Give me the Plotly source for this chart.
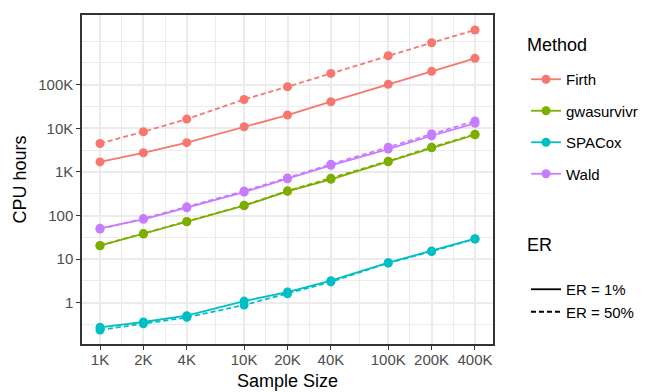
import plotly.graph_objects as go

sample_sizes = [1000, 2000, 4000, 10000, 20000, 40000, 100000, 200000, 400000]
x_tick_labels = ["1K", "2K", "4K", "10K", "20K", "40K", "100K", "200K", "400K"]
y_tick_vals = [1, 10, 100, 1000, 10000, 100000]
y_tick_labels = ["1", "10", "100", "1K", "10K", "100K"]

methods = ["Firth", "gwasurvivr", "SPACox", "Wald"]
colors = ["#F8766D", "#7CAE00", "#00BFC4", "#C77CFF"]

firth_er1 = [1700, 2750, 4700, 10900, 20200, 40800, 102000, 203000, 403000]
firth_er50 = [4500, 8350, 16300, 46000, 90000, 182000, 463000, 920000, 1800000]
gwas_er1 = [20.3, 37.6, 72, 168, 359, 676, 1710, 3590, 7130]
gwas_er50 = [20.5, 38.5, 73, 171, 368, 715, 1770, 3680, 7300]
spacox_er1 = [0.273, 0.361, 0.503, 1.09, 1.76, 3.2, 8.27, 15.3, 29.4]
spacox_er50 = [0.237, 0.33, 0.46, 0.886, 1.6, 3.0, 8.1, 15.0, 29.0]
wald_er1 = [50.9, 81.8, 151, 346, 698, 1417, 3350, 6763, 13030]
wald_er50 = [49, 85, 158, 365, 730, 1500, 3700, 7500, 14700]

er1 = [firth_er1, gwas_er1, spacox_er1, wald_er1]
er50 = [firth_er50, gwas_er50, spacox_er50, wald_er50]

FONT = "Liberation Sans, Arial, sans-serif"
DASH = "5px,3px"
fig = go.Figure()

for m, c, s, d in zip(methods, colors, er1, er50):
    fig.add_trace(go.Scatter(x=sample_sizes, y=d, mode="lines+markers",
                             line=dict(color=c, width=1.8, dash=DASH),
                             marker=dict(color=c, size=9), showlegend=False))
    fig.add_trace(go.Scatter(x=sample_sizes, y=s, mode="lines+markers",
                             line=dict(color=c, width=1.8),
                             marker=dict(color=c, size=9), showlegend=False))

# legend entries
for m, c in zip(methods, colors):
    fig.add_trace(go.Scatter(x=[None], y=[None], mode="lines+markers", name=m,
                             line=dict(color=c, width=1.8), marker=dict(color=c, size=9),
                             legend="legend", legendgroup=m))
fig.add_trace(go.Scatter(x=[None], y=[None], mode="lines", name="ER = 1%",
                         line=dict(color="black", width=1.8), legend="legend2"))
fig.add_trace(go.Scatter(x=[None], y=[None], mode="lines", name="ER = 50%",
                         line=dict(color="black", width=1.8, dash=DASH), legend="legend2"))

minor_x = [10 ** ((a + b) / 2) for a, b in zip(
    [3, 3.30103, 3.60206, 4, 4.30103, 4.60206, 5, 5.30103],
    [3.30103, 3.60206, 4, 4.30103, 4.60206, 5, 5.30103, 5.60206])]
minor_y = [10 ** (k + 0.5) for k in range(-1, 6)] + [1e6]

axis_common = dict(
    showline=True, mirror=True, linecolor="#333333", linewidth=1.5,
    ticks="outside", ticklen=4, tickcolor="#333333", tickwidth=1.2,
    tickfont=dict(family=FONT, size=15, color="#4D4D4D"),
    showgrid=True, gridcolor="#EBEBEB", gridwidth=1.6, zeroline=False,
    automargin=False,
)

fig.update_xaxes(type="log", range=[2.875, 5.727], tickmode="array",
                 tickvals=sample_sizes, ticktext=x_tick_labels, ticklabelstandoff=-3,
                 title=dict(text="Sample Size", font=dict(family=FONT, size=18, color="black"), standoff=8),
                 minor=dict(tickmode="array", tickvals=minor_x, showgrid=True,
                            gridcolor="#EBEBEB", gridwidth=0.8, ticks=""),
                 **axis_common)
fig.update_yaxes(type="log", range=[-0.947, 6.6], tickmode="array",
                 tickvals=y_tick_vals, ticktext=y_tick_labels,
                 title=dict(text="CPU hours", font=dict(family=FONT, size=18, color="black"), standoff=7),
                 minor=dict(tickmode="array", tickvals=minor_y, showgrid=True,
                            gridcolor="#EBEBEB", gridwidth=0.8, ticks=""),
                 **axis_common)

W, H = 639, 384
fig.update_layout(
    width=W, height=H,
    margin=dict(l=74, r=154, t=7, b=48),
    plot_bgcolor="white", paper_bgcolor="white",
    font=dict(family=FONT, size=15, color="black"),
    legend=dict(xref="container", yref="container", x=518 / W, xanchor="left",
                y=1 - 55 / H, yanchor="top",
                font=dict(size=15), tracegroupgap=9, bgcolor="rgba(0,0,0,0)"),
    legend2=dict(xref="container", yref="container", x=518 / W, xanchor="left",
                 y=1 - 265 / H, yanchor="top",
                 font=dict(size=15), bgcolor="rgba(0,0,0,0)"),
    annotations=[
        dict(text="Method", xref="paper", yref="paper", x=(525 - 82) / 411, y=(344 - 45) / 329,
             xanchor="left", yanchor="middle", showarrow=False,
             font=dict(family=FONT, size=18, color="black")),
        dict(text="ER", xref="paper", yref="paper", x=(525 - 82) / 411, y=(344 - 245) / 329,
             xanchor="left", yanchor="middle", showarrow=False,
             font=dict(family=FONT, size=18, color="black")),
    ],
)

fig.write_html("out.html")
